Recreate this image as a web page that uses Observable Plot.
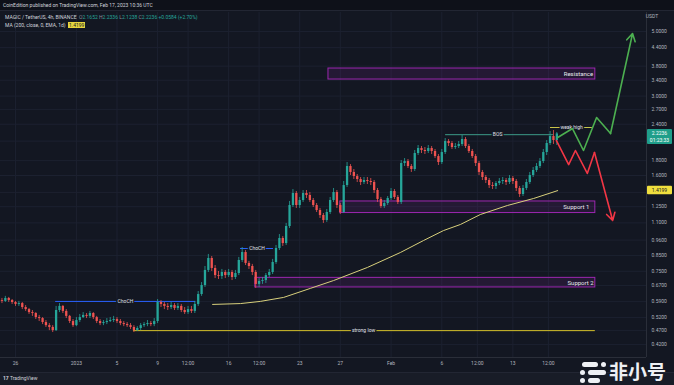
<!DOCTYPE html>
<html><head><meta charset="utf-8">
<script src="https://cdn.jsdelivr.net/npm/d3@7"></script>
<script src="https://cdn.jsdelivr.net/npm/@observablehq/plot@0.6"></script>
<style>
body{margin:0;background:#131722;font-family:Roboto,"DejaVu Sans",sans-serif;}
#wrap{position:relative;width:674px;height:385px;overflow:hidden;background:#131722;}
#wrap svg{position:absolute;left:0;top:0;}
.ov{position:absolute;white-space:nowrap;line-height:1;}
</style></head><body><div id="wrap"></div>
<script>
// ---- data (MAGIC/USDT, candles of 8h) ----
const firstOpen = 0.595;
const closes = [0.591,0.605,0.595,0.586,0.577,0.581,0.563,0.554,0.541,0.537,
 0.520,0.516,0.500,0.488,0.481,0.469,0.550,0.568,0.546,0.525,
 0.504,0.488,0.508,0.520,0.529,0.525,0.537,0.520,0.504,0.496,
 0.500,0.504,0.508,0.512,0.504,0.496,0.492,0.488,0.481,0.469,
 0.477,0.488,0.492,0.496,0.492,0.504,0.586,0.577,0.568,0.563,
 0.572,0.559,0.568,0.550,0.541,0.554,0.546,0.577,0.624,0.670,
 0.755,0.830,0.767,0.725,0.720,0.743,0.725,0.743,0.714,0.737,
 0.817,0.870,0.798,0.779,0.743,0.676,0.692,0.697,0.725,0.743,
 0.804,0.898,0.972,0.934,1.069,1.262,1.388,1.262,1.313,1.388,
 1.366,1.313,1.262,1.213,1.166,1.121,1.194,1.313,1.399,1.262,
 1.194,1.478,1.718,1.639,1.587,1.550,1.514,1.538,1.526,1.514,
 1.421,1.324,1.252,1.282,1.334,1.410,1.345,1.293,1.759,1.787,
 1.718,1.678,1.904,1.981,1.950,1.935,1.981,1.935,1.859,1.773,
 1.919,2.094,2.061,1.997,2.013,2.045,2.127,2.013,1.935,1.859,
 1.759,1.639,1.575,1.538,1.478,1.467,1.502,1.526,1.538,1.514,
 1.563,1.526,1.444,1.377,1.444,1.514,1.600,1.665,1.718,1.787,
 1.919,2.061,2.178,2.110,2.2236];
const highs = [0.605,0.615,0.610,0.600,0.591,0.591,0.586,0.572,0.559,0.550,
 0.541,0.529,0.520,0.508,0.496,0.488,0.568,0.581,0.572,0.554,
 0.529,0.512,0.520,0.533,0.541,0.537,0.546,0.541,0.525,0.512,
 0.508,0.516,0.520,0.525,0.520,0.512,0.504,0.500,0.496,0.488,
 0.484,0.496,0.500,0.508,0.504,0.516,0.600,0.595,0.586,0.581,
 0.586,0.581,0.581,0.577,0.563,0.568,0.568,0.591,0.639,0.686,
 0.779,0.857,0.843,0.785,0.749,0.761,0.755,0.761,0.755,0.755,
 0.837,0.905,0.884,0.811,0.792,0.755,0.708,0.714,0.737,0.761,
 0.824,0.920,1.003,0.987,1.095,1.303,1.432,1.410,1.345,1.421,
 1.421,1.399,1.334,1.282,1.233,1.185,1.223,1.345,1.444,1.421,
 1.282,1.526,1.773,1.745,1.678,1.613,1.575,1.575,1.575,1.563,
 1.538,1.444,1.345,1.313,1.355,1.444,1.432,1.366,1.801,1.830,
 1.816,1.745,1.950,2.029,2.013,1.997,2.029,2.013,1.966,1.889,
 1.966,2.144,2.127,2.094,2.061,2.094,2.196,2.161,2.045,1.966,
 1.889,1.787,1.665,1.600,1.563,1.514,1.526,1.563,1.575,1.563,
 1.600,1.587,1.550,1.467,1.478,1.550,1.639,1.704,1.759,1.830,
 1.966,2.110,2.266,2.284,2.248];
const lows = [0.581,0.586,0.586,0.577,0.568,0.568,0.554,0.546,0.533,0.525,
 0.512,0.504,0.492,0.481,0.469,0.462,0.466,0.541,0.537,0.516,
 0.496,0.481,0.484,0.500,0.516,0.516,0.516,0.512,0.496,0.488,
 0.488,0.492,0.500,0.500,0.496,0.488,0.484,0.481,0.473,0.462,
 0.466,0.469,0.481,0.484,0.484,0.484,0.496,0.563,0.554,0.550,
 0.554,0.550,0.550,0.541,0.533,0.533,0.537,0.537,0.568,0.615,
 0.660,0.743,0.749,0.708,0.703,0.703,0.708,0.714,0.697,0.703,
 0.725,0.804,0.785,0.761,0.725,0.655,0.660,0.676,0.681,0.714,
 0.731,0.792,0.884,0.913,0.920,1.052,1.242,1.233,1.233,1.293,
 1.334,1.293,1.242,1.194,1.139,1.095,1.104,1.175,1.293,1.233,
 1.175,1.185,1.455,1.600,1.550,1.514,1.478,1.490,1.490,1.478,
 1.388,1.293,1.233,1.233,1.262,1.313,1.324,1.272,1.272,1.718,
 1.691,1.639,1.652,1.874,1.904,1.889,1.904,1.889,1.830,1.732,
 1.745,1.889,2.013,1.966,1.966,1.981,2.013,1.981,1.904,1.830,
 1.718,1.600,1.538,1.502,1.444,1.432,1.432,1.478,1.490,1.478,
 1.490,1.490,1.410,1.345,1.355,1.421,1.490,1.575,1.639,1.691,
 1.759,1.874,2.029,2.045,2.029];
const candleStart = "2022-12-24T16:00Z";
const candleHours = 8;

const maDates = ["2023-01-14T10:00Z","2023-01-17T04:00Z","2023-01-19T03:00Z","2023-01-21T10:00Z","2023-01-24T01:00Z","2023-01-26T08:00Z","2023-01-29T16:00Z","2023-02-01T22:00Z","2023-02-04T05:00Z","2023-02-06T04:00Z","2023-02-07T20:00Z","2023-02-09T19:00Z","2023-02-12T11:00Z","2023-02-15T01:00Z","2023-02-17T10:00Z"];
const maValues = [0.577,0.581,0.591,0.610,0.655,0.697,0.773,0.870,0.957,1.035,1.086,1.175,1.262,1.334,1.4199];

const zoneNames = ["Resistance","Support 1","Support 2"];
const zoneStart = ["2023-01-25T20:00Z","2023-01-27T00:00Z","2023-01-18T15:00Z"];
const zoneEnd = ["2023-02-21T03:00Z","2023-02-21T03:00Z","2023-02-21T03:00Z"];
const zoneTop = [3.73,1.303,0.712];
const zoneBottom = [3.419,1.189,0.660];
const zoneLabelAt = ["2023-02-19T11:00Z","2023-02-19T06:00Z","2023-02-19T16:00Z"];

const levelNames = ["ChoCH","ChoCH","BOS","strong low","weak high"];
const levelKind = ["choch","choch","bos","low","high"];
const levelStart = ["2022-12-29T23:00Z","2023-01-17T04:00Z","2023-02-06T09:00Z","2023-01-06T15:00Z","2023-02-16T17:00Z"];
const levelEnd = ["2023-01-12T18:00Z","2023-01-20T10:00Z","2023-02-17T00:00Z","2023-02-21T03:00Z","2023-02-20T20:00Z"];
const levelPrice = [0.591,0.898,2.21,0.469,2.339];
const levelLabelAt = ["2023-01-05T20:00Z","2023-01-18T19:00Z","2023-02-11T12:00Z","2023-01-29T07:00Z","2023-02-18T19:00Z"];

const bullDates = ["2023-02-17T10:00Z","2023-02-18T21:00Z","2023-02-19T23:00Z","2023-02-21T06:00Z","2023-02-22T15:00Z","2023-02-24T19:00Z"];
const bullPrices = [2.161,2.320,1.950,2.532,2.230,4.920];
const bearDates = ["2023-02-17T07:00Z","2023-02-18T12:00Z","2023-02-19T04:00Z","2023-02-20T08:00Z","2023-02-21T01:00Z","2023-02-22T20:00Z"];
const bearPrices = [2.110,1.745,1.950,1.626,1.919,1.121];

const yTicks = [5.0,4.4,3.8,3.4,3.0,2.7,2.4,1.8,1.6,1.25,1.1,0.96,0.85,0.75,0.67,0.59,0.52,0.47,0.42];
const yGridExtra = [2.1,1.4];
const xTickDates = ["2022-12-26T00:00Z","2023-01-01T00:00Z","2023-01-05T00:00Z","2023-01-09T00:00Z","2023-01-12T00:00Z","2023-01-16T00:00Z","2023-01-19T00:00Z","2023-01-23T00:00Z","2023-01-27T00:00Z","2023-02-01T00:00Z","2023-02-06T00:00Z","2023-02-09T12:00Z","2023-02-13T00:00Z","2023-02-16T12:00Z"];
const xTickLabels = ["26","2023","5","9","12:00","16","12:00","23","27","Feb","6","12:00","13","12:00"];

const lastPrice = 2.2236;
const maLast = 1.4199;

// ---- build ----
const D = s => new Date(s);
const t0 = +D(candleStart);
const candles = closes.map((c,i)=>({t:new Date(t0 + i*candleHours*3600e3), o: i ? closes[i-1] : firstOpen, h: highs[i], l: lows[i], c}));
const up = candles.filter(d=>d.c>=d.o), dn = candles.filter(d=>d.c<d.o);
const ma = maDates.map((d,i)=>({t:D(d), v:maValues[i]}));
const zones = zoneNames.map((n,i)=>({n, s:D(zoneStart[i]), e:D(zoneEnd[i]), top:zoneTop[i], bot:zoneBottom[i], la:D(zoneLabelAt[i])}));
const levels = levelNames.map((n,i)=>({n, k:levelKind[i], s:D(levelStart[i]), e:D(levelEnd[i]), p:levelPrice[i], la:D(levelLabelAt[i])}));
const bull = bullDates.map((d,i)=>({t:D(d), v:bullPrices[i]}));
const bear = bearDates.map((d,i)=>({t:D(d), v:bearPrices[i]}));
const headOf = a => [{x1:a[a.length-2].t, y1:a[a.length-2].v, x2:a[a.length-1].t, y2:a[a.length-1].v}];
const xTicks = xTickDates.map(D);
const xLab = new Map(xTicks.map((d,i)=>[+d, xTickLabels[i]]));

const UP="#26a69a", DN="#ef5350", BG="#131722", GRID="#1c2130", AX="#b2b5be";
const lineColor = {choch:"#2962ff", bos:"#3c9a88", low:"#d4c12a", high:"#c8c44a"};
const xDomain = [D("2022-12-24T12:32Z"), D("2023-02-26T04:00Z")];
const yDomain = [0.3792, 5.81];

const chart = Plot.plot({
  width: 674, height: 385,
  marginLeft: 0, marginRight: 28, marginTop: 12, marginBottom: 28,
  style: {background: BG, color: AX, fontFamily: "Roboto, sans-serif"},
  x: {type: "utc", domain: xDomain},
  y: {type: "log", domain: yDomain},
  marks: [
    Plot.gridY([...yTicks, ...yGridExtra], {stroke: GRID, strokeOpacity: 1}),
    Plot.gridX(xTicks, {stroke: GRID, strokeOpacity: 1}),
    Plot.rect(zones, {x1: "s", x2: "e", y1: "bot", y2: "top", fill: "#9c27b0", fillOpacity: 0.13, stroke: "#9c27b0", strokeWidth: 1}),
    Plot.line(ma, {x: "t", y: "v", stroke: "#d8d07c", strokeWidth: 1}),
    ...["choch","bos","low","high"].map(k => Plot.ruleY(levels.filter(d=>d.k===k), {y: "p", x1: "s", x2: "e", stroke: lineColor[k], strokeWidth: 1})),
    Plot.ruleX(up, {x: "t", y1: "l", y2: "h", stroke: UP, strokeWidth: 0.8}),
    Plot.ruleX(dn, {x: "t", y1: "l", y2: "h", stroke: DN, strokeWidth: 0.8}),
    Plot.ruleX(up, {x: "t", y1: "o", y2: "c", stroke: UP, strokeWidth: 2.3}),
    Plot.ruleX(dn, {x: "t", y1: "o", y2: "c", stroke: DN, strokeWidth: 2.3}),
    Plot.text(levels, {x: "la", y: "p", text: "n", fill: "#e0e3eb", fontSize: 5, stroke: BG, strokeWidth: 3}),
    Plot.text(zones, {x: "la", y: d => Math.sqrt(d.top*d.bot), text: "n", fill: "#e6e8ee", fontSize: 6}),
    Plot.line(bull.slice(0,-1), {x: "t", y: "v", stroke: "#4caf50", strokeWidth: 1.6}),
    Plot.arrow(headOf(bull), {x1: "x1", y1: "y1", x2: "x2", y2: "y2", stroke: "#4caf50", strokeWidth: 1.6, headLength: 8}),
    Plot.line(bear.slice(0,-1), {x: "t", y: "v", stroke: "#f23645", strokeWidth: 1.6}),
    Plot.arrow(headOf(bear), {x1: "x1", y1: "y1", x2: "x2", y2: "y2", stroke: "#f23645", strokeWidth: 1.6, headLength: 8}),
    Plot.ruleX([xDomain[1]], {stroke: "#2a2e39"}),
    Plot.ruleY([yDomain[0]], {stroke: "#2a2e39"}),
    Plot.axisY({ticks: yTicks, anchor: "right", tickSize: 0, tickPadding: 5, tickFormat: d => d.toFixed(4), fontSize: 5, fill: AX, label: null}),
    Plot.axisX({ticks: xTicks, anchor: "bottom", tickSize: 0, tickPadding: 4, tickFormat: d => xLab.get(+d), fontSize: 5, fill: AX, label: null})
  ]
});
const wrap = document.getElementById("wrap");
wrap.appendChild(chart);

// price badges on the price scale, positioned with the chart's own y scale
const sy = chart.scale("y");
const svg = d3.select(chart);
const g = svg.append("g").attr("font-family","Roboto, sans-serif");
function badge(v, lines, bg, fg){
  const yy = sy.apply(v);
  const h = 6.5*lines.length + 2;
  g.append("rect").attr("x",647).attr("y",yy-4.3).attr("width",25).attr("height",h).attr("rx",1).attr("fill",bg);
  lines.forEach((s,i)=>g.append("text").attr("x",659.5).attr("y",yy+1.8+i*6.5).attr("text-anchor","middle").attr("font-size",5).attr("fill",fg).text(s));
}
badge(lastPrice, [lastPrice.toFixed(4), "01:23:33"], "#1f9e8a", "#ffffff");
badge(maLast, [maLast.toFixed(4)], "#f0df3e", "#131722");
g.append("text").attr("x",652).attr("y",18).attr("font-size",5).attr("fill",AX).text("USDT");

// header, legend, footer, watermark
function ov(html, css){ const d=document.createElement("div"); d.className="ov"; d.style.cssText=css; d.innerHTML=html; wrap.appendChild(d); }
ov("", "left:0;top:0;width:674px;height:10px;background:#0e1119;border-bottom:1px solid #222633;");
ov("CoinEdition published on TradingView.com, Feb 17, 2023 10:36 UTC", "left:3px;top:2.5px;font-size:5px;color:#d1d4dc;");
ov("MAGIC / TetherUS, 4h, BINANCE&nbsp; <span style='color:#8a8e99'>O</span><span style='color:#26a69a'>2.1652</span> <span style='color:#8a8e99'>H</span><span style='color:#26a69a'>2.2336</span> <span style='color:#8a8e99'>L</span><span style='color:#26a69a'>2.1238</span> <span style='color:#8a8e99'>C</span><span style='color:#26a69a'>2.2236 +0.0584 (+2.70%)</span>", "left:5px;top:15px;font-size:5px;color:#d1d4dc;");
ov("MA (200, close, 0, EMA, 1d)&nbsp; <span style='color:#131722;background:#e6d43f;padding:0 1px'>1.4199</span>", "left:5px;top:23px;font-size:5px;color:#d1d4dc;");
ov("", "left:0;top:372px;width:674px;height:13px;background:#181c27;border-top:1px solid #222633;");
ov("<b>17</b> TradingView", "left:3px;top:376px;font-size:5px;color:#d1d4dc;");
ov("", "left:582px;top:362px;width:16px;height:5px;border-radius:3px;background:#eef0f4;");
ov("", "left:601px;top:362px;width:5px;height:5px;border-radius:3px;background:#eef0f4;");
ov("", "left:580px;top:370px;width:5px;height:5px;border-radius:3px;background:#eef0f4;");
ov("", "left:588px;top:370px;width:18px;height:5px;border-radius:3px;background:#eef0f4;");
ov("", "left:580px;top:378px;width:5px;height:5px;border-radius:3px;background:#eef0f4;");
ov("", "left:588px;top:378px;width:12px;height:5px;border-radius:3px;background:#eef0f4;");
ov("非小号", "left:609px;top:361px;font-size:19px;font-weight:bold;color:#eef0f4;font-family:'Noto Sans CJK SC',sans-serif;");
</script></body></html>
